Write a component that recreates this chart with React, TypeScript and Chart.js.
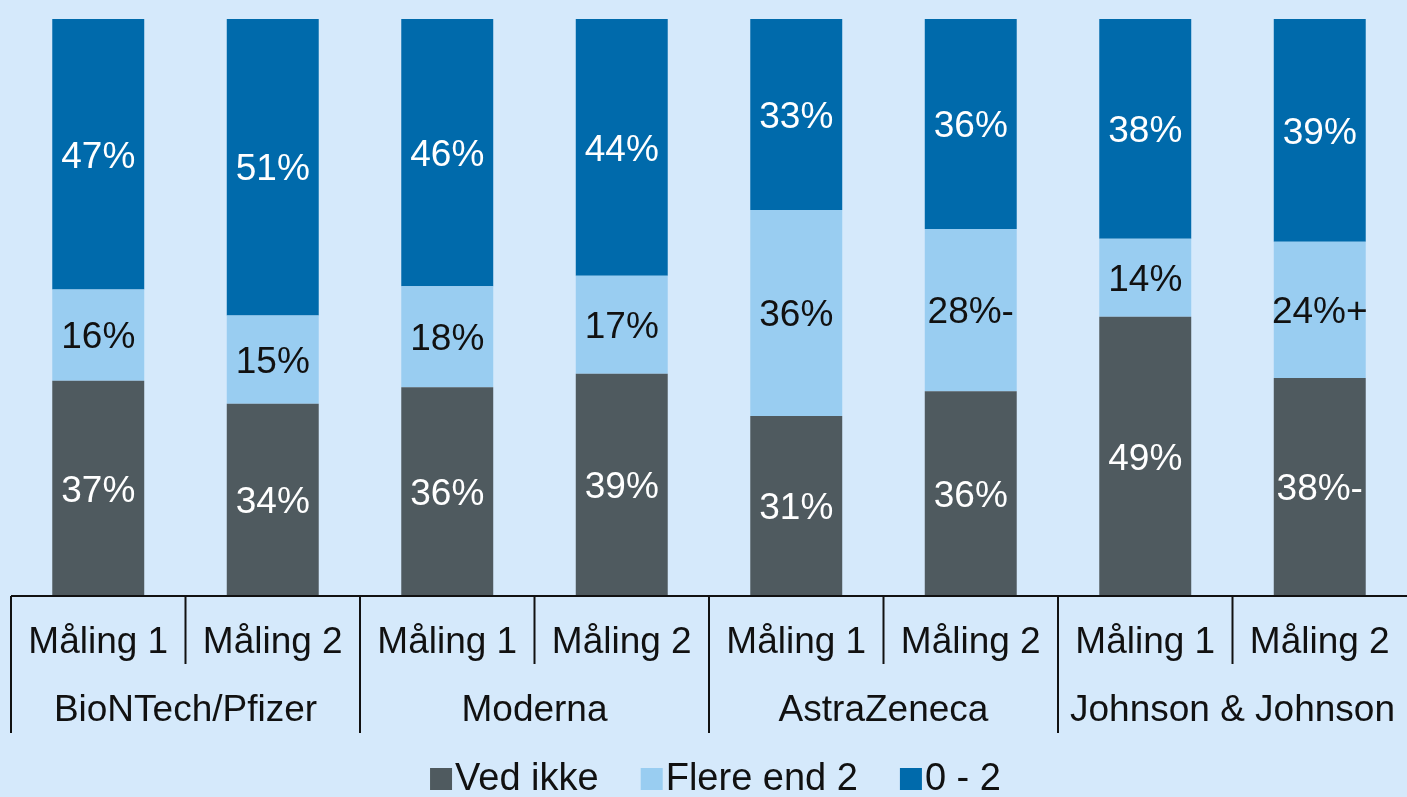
import React, { useEffect, useRef } from "react";
import { Chart, registerables } from "chart.js";

Chart.register(...registerables);

const groups = ["BioNTech/Pfizer", "Moderna", "AstraZeneca", "Johnson & Johnson"];
const measurements = ["Måling 1", "Måling 2"];
const categories = [
  "BioNTech/Pfizer Måling 1",
  "BioNTech/Pfizer Måling 2",
  "Moderna Måling 1",
  "Moderna Måling 2",
  "AstraZeneca Måling 1",
  "AstraZeneca Måling 2",
  "Johnson & Johnson Måling 1",
  "Johnson & Johnson Måling 2",
];

const seriesNames = ["Ved ikke", "Flere end 2", "0 - 2"];
const vedIkke = [37.3, 33.3, 36.2, 38.5, 31.2, 35.5, 48.4, 37.8];
const flere = [15.8, 15.3, 17.5, 17, 35.7, 28.1, 13.5, 23.6];
const nulTo = [46.9, 51.4, 46.3, 44.5, 33.1, 36.4, 38.1, 38.6];

const vedIkkeLabels = ["37%", "34%", "36%", "39%", "31%", "36%", "49%", "38%-"];
const flereLabels = ["16%", "15%", "18%", "17%", "36%", "28%-", "14%", "24%+"];
const nulToLabels = ["47%", "51%", "46%", "44%", "33%", "36%", "38%", "39%"];

const colors = ["#4f5a5f", "#99cdf1", "#006aab"];
const labelColors = ["#ffffff", "#111111", "#ffffff"];
const BG = "#d5e9fb";
const FONT = 'Arial, "Liberation Sans", sans-serif';

export default function App() {
  const ref = useRef<HTMLCanvasElement | null>(null);

  useEffect(() => {
    document.body.style.margin = "0";
    document.body.style.background = BG;
    const canvas = ref.current;
    if (!canvas) return;

    const labelSets = [vedIkkeLabels, flereLabels, nulToLabels];

    const bgPlugin = {
      id: "bgPlugin",
      beforeDraw(chart: any) {
        const { ctx, width, height } = chart;
        ctx.save();
        ctx.fillStyle = BG;
        ctx.fillRect(0, 0, width, height);
        ctx.restore();
      },
    };

    const decorPlugin = {
      id: "decorPlugin",
      afterDatasetsDraw(chart: any) {
        const { ctx, chartArea } = chart;
        const x = chart.scales.x;
        ctx.save();
        // segment labels
        ctx.font = `37px ${FONT}`;
        ctx.textAlign = "center";
        ctx.textBaseline = "middle";
        chart.data.datasets.forEach((ds: any, di: number) => {
          const meta = chart.getDatasetMeta(di);
          meta.data.forEach((el: any, i: number) => {
            const p = el.getProps(["x", "y", "base"], true);
            ctx.fillStyle = labelColors[di];
            ctx.fillText(labelSets[di][i], p.x, (p.y + p.base) / 2 + 3);
          });
        });

        // axis line
        const axisY = chartArea.bottom;
        const catW = x.width / categories.length;
        ctx.strokeStyle = "#111111";
        ctx.lineWidth = 2;
        ctx.beginPath();
        ctx.moveTo(chartArea.left, axisY);
        ctx.lineTo(chartArea.right, axisY);
        ctx.stroke();

        // separators
        for (let i = 0; i < categories.length; i++) {
          const bx = x.left + i * catW;
          const isGroup = i % 2 === 0;
          ctx.beginPath();
          ctx.moveTo(bx, axisY);
          ctx.lineTo(bx, isGroup ? axisY + 137 : axisY + 68);
          ctx.stroke();
        }

        // tick labels
        ctx.fillStyle = "#111111";
        ctx.font = `37px ${FONT}`;
        for (let i = 0; i < categories.length; i++) {
          const cx = x.getPixelForValue(i);
          ctx.fillText(measurements[i % 2], cx, axisY + 47);
        }
        for (let g = 0; g < groups.length; g++) {
          const cx = (x.getPixelForValue(g * 2) + x.getPixelForValue(g * 2 + 1)) / 2;
          ctx.fillText(groups[g], cx, axisY + 115);
        }

        // legend
        ctx.font = `38px ${FONT}`;
        const box = 22;
        const gapBoxText = 3;
        const gapItems = 42;
        const widths = seriesNames.map((n) => box + gapBoxText + ctx.measureText(n).width);
        const total = widths.reduce((a, b) => a + b, 0) + gapItems * (seriesNames.length - 1);
        let lx = (chart.width - total) / 2 + 12;
        const ly = 779;
        ctx.textAlign = "left";
        seriesNames.forEach((n, i) => {
          ctx.fillStyle = colors[i];
          ctx.fillRect(lx, ly - box / 2, box, box);
          ctx.fillStyle = "#111111";
          ctx.fillText(n, lx + box + gapBoxText, ly + 1);
          lx += widths[i] + gapItems;
        });
        ctx.restore();
      },
    };

    const chart = new Chart(canvas, {
      type: "bar",
      data: {
        labels: categories,
        datasets: [
          { label: seriesNames[0], data: vedIkke, backgroundColor: colors[0] },
          { label: seriesNames[1], data: flere, backgroundColor: colors[1] },
          { label: seriesNames[2], data: nulTo, backgroundColor: colors[2] },
        ],
      },
      options: {
        responsive: false,
        animation: false,
        events: [],
        layout: { padding: { left: 11, right: 0, top: 19, bottom: 201 } },
        datasets: {
          bar: { categoryPercentage: 1, barPercentage: 0.527, borderWidth: 0 },
        },
        scales: {
          x: { stacked: true, display: false, offset: true, grid: { display: false } },
          y: { stacked: true, display: false, min: 0, max: 100 },
        },
        plugins: {
          legend: { display: false },
          tooltip: { enabled: false },
          title: { display: false },
        },
      },
      plugins: [bgPlugin, decorPlugin],
    });

    return () => chart.destroy();
  }, []);

  return (
    <div style={{ position: "absolute", left: 0, top: 0, width: 1407, height: 797, background: BG }}>
      <canvas ref={ref} width={1407} height={797} style={{ display: "block", width: 1407, height: 797 }} />
    </div>
  );
}
